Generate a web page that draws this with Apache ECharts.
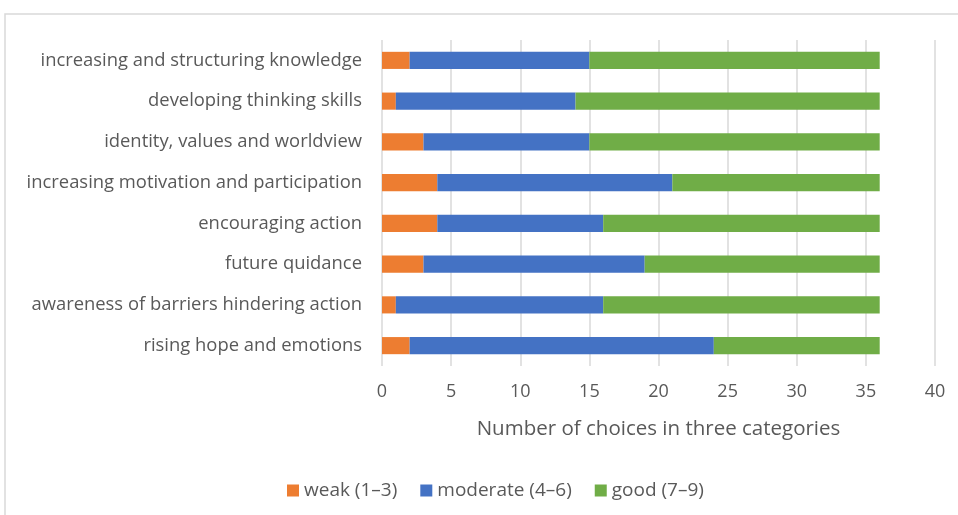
<!DOCTYPE html>
<html>
<head>
<meta charset="utf-8">
<script src="https://cdn.jsdelivr.net/npm/echarts@6/dist/echarts.min.js"></script>
<style>
  html, body { margin: 0; padding: 0; background: #fff; }
  #chart { width: 958px; height: 515px; }
</style>
</head>
<body>
<div id="chart"></div>
<script>
var categories = [
    'increasing and structuring knowledge',
    'developing thinking skills',
    'identity, values and worldview',
    'increasing motivation and participation',
    'encouraging action',
    'future quidance',
    'awareness of barriers hindering action',
    'rising hope and emotions'
];
var weak = [2, 1, 3, 4, 4, 3, 1, 2];
var moderate = [13, 13, 12, 17, 12, 16, 15, 22];
var good = [21, 22, 21, 15, 20, 17, 20, 12];
var seriesNames = ['weak (1\u20133)', 'moderate (4\u20136)', 'good (7\u20139)'];

var font = '"Open Sans", Lato, sans-serif';
var textColor = '#595959';

var myChart = echarts.init(document.getElementById('chart'));

function barSeries(name, data, color) {
    return {
        name: name,
        type: 'bar',
        stack: 'total',
        barWidth: '42%',
        data: data,
        itemStyle: { color: color }
    };
}

var option = {
    backgroundColor: '#fff',
    animation: false,
    textStyle: { fontFamily: font },
    graphic: [{
        type: 'rect',
        shape: { x: 5, y: 14, width: 1000, height: 600 },
        style: { fill: 'none', stroke: '#d9d9d9', lineWidth: 1.5 },
        silent: true
    }],
    legend: {
        bottom: 10,
        left: 282,
        itemWidth: 12,
        itemHeight: 12,
        itemGap: 23,
        icon: 'rect',
        textStyle: { fontFamily: font, fontSize: 19, color: textColor },
        data: seriesNames
    },
    grid: {
        left: 382,
        right: 23,
        top: 40,
        bottom: 149
    },
    xAxis: {
        type: 'value',
        min: 0,
        max: 40,
        interval: 5,
        name: 'Number of choices in three categories',
        nameLocation: 'middle',
        nameGap: 53,
        nameTextStyle: { fontFamily: font, fontSize: 20.5, color: textColor },
        axisLine: { show: false },
        axisTick: { show: false },
        axisLabel: { fontFamily: font, fontSize: 18, color: textColor, margin: 17 },
        splitLine: { lineStyle: { color: '#d9d9d9', width: 1.5 } }
    },
    yAxis: {
        type: 'category',
        inverse: true,
        data: categories,
        axisLine: { show: false },
        axisTick: { show: false },
        axisLabel: { fontFamily: font, fontSize: 18.4, color: textColor, margin: 20 }
    },
    series: [
        barSeries(seriesNames[0], weak, '#ED7D31'),
        barSeries(seriesNames[1], moderate, '#4472C4'),
        barSeries(seriesNames[2], good, '#70AD47')
    ]
};

myChart.setOption(option);
</script>
</body>
</html>
